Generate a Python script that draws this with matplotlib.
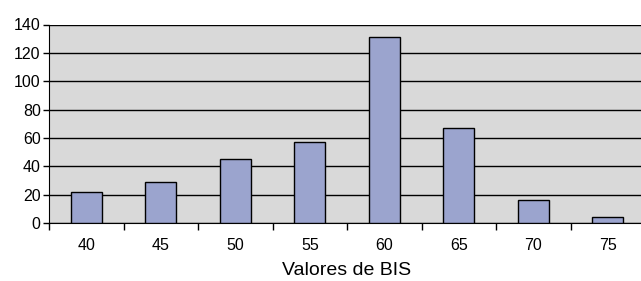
import matplotlib
matplotlib.use("Agg")
import matplotlib.pyplot as plt
import numpy as np

categories = ["40", "45", "50", "55", "60", "65", "70", "75"]
values = [22, 29, 45, 57, 131, 67, 16, 4]
yticks = [0, 20, 40, 60, 80, 100, 120, 140]

plt.rcParams['font.family'] = ['Liberation Sans', 'DejaVu Sans']

fig = plt.figure(figsize=(6.41, 2.81), dpi=100)
ax = fig.add_axes([49/641, (281-223)/281, (645-49)/641, (223-24.5)/281])
ax.set_facecolor('#d9d9d9')

x = np.arange(len(categories))
ax.bar(x, values, width=0.41, color='#9ba4ce', edgecolor='black', linewidth=1.0, zorder=3)

ax.set_xlim(-0.5, len(categories) - 0.5)
ax.set_ylim(0, 140)
ax.set_yticks(yticks)
ax.set_yticklabels([str(t) for t in yticks], fontsize=11.5)
ax.set_xticks(x)
ax.set_xticklabels(categories, fontsize=11.5)
ax.set_xticks(np.arange(len(categories) + 1) - 0.5, minor=True)
ax.tick_params(axis='x', which='major', length=0, pad=10.5)
ax.tick_params(axis='x', which='minor', length=5, width=1, direction='out')
ax.tick_params(axis='y', length=4, width=1, direction='out', pad=2)

ax.yaxis.grid(True, color='black', linewidth=1.0, zorder=1)
ax.set_axisbelow(True)
for s in ['top', 'right']:
    ax.spines[s].set_visible(False)
ax.spines['left'].set_color('black')
ax.spines['bottom'].set_color('black')
ax.set_xlabel("Valores de BIS", fontsize=14, labelpad=7)

fig.savefig("out.png", dpi=100)
